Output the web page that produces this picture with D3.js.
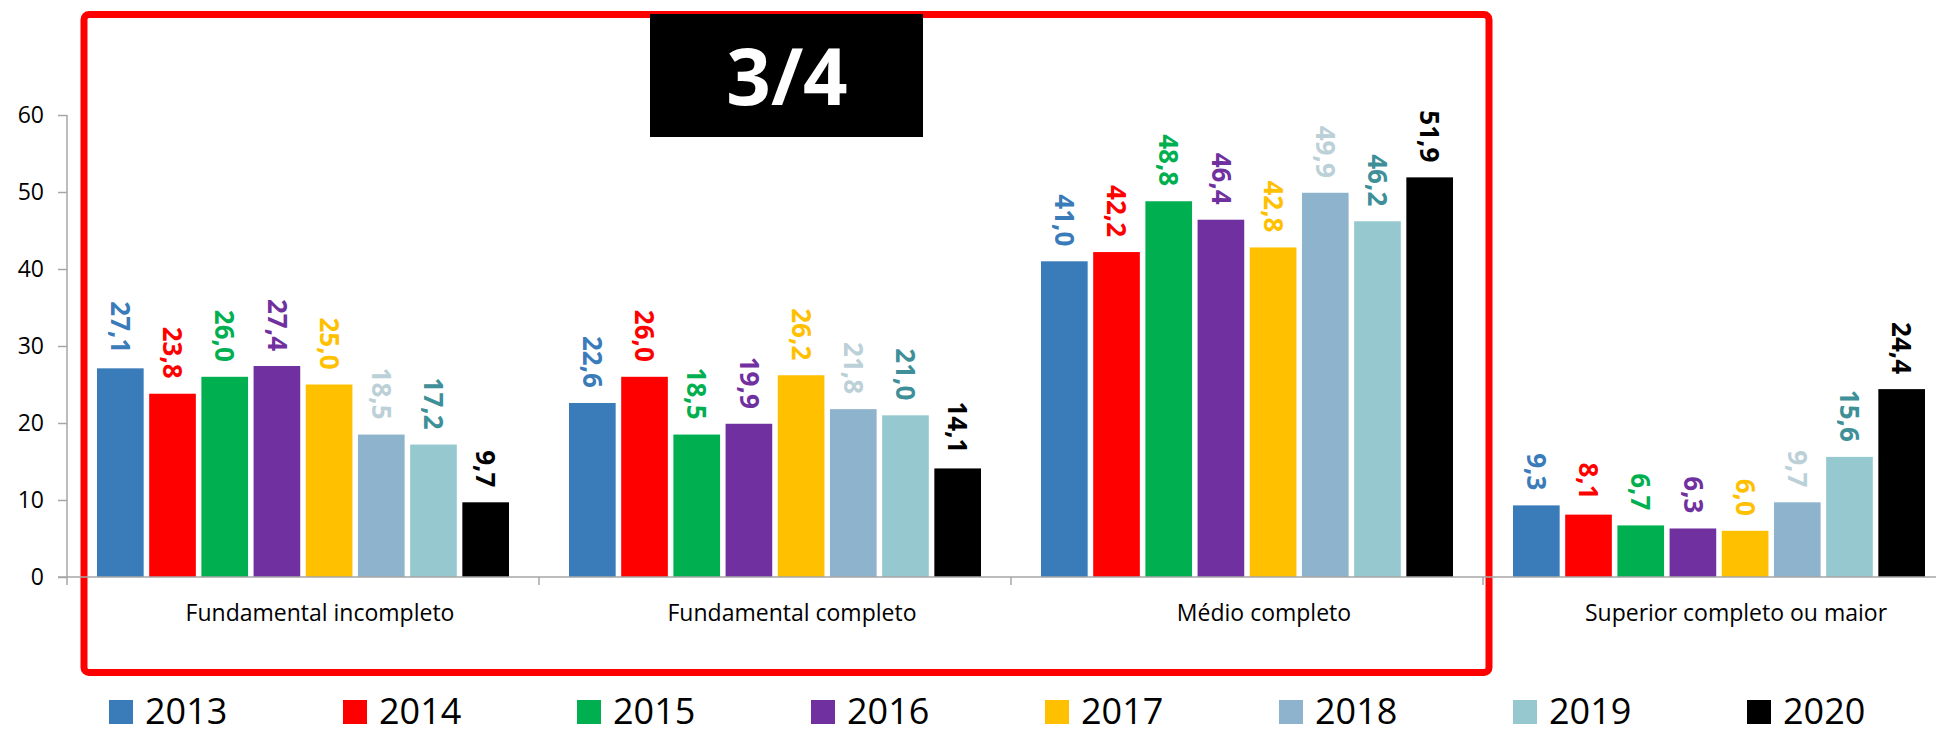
<!DOCTYPE html>
<html>
<head>
<meta charset="utf-8">
<script src="https://cdn.jsdelivr.net/npm/d3@7"></script>
<style>
  body { margin: 0; background: #fff; }
  svg { display: block; }
</style>
</head>
<body>
<svg id="chart" width="1936" height="734"></svg>
<script>
// valores
let categories = ["Fundamental incompleto", "Fundamental completo", "Médio completo", "Superior completo ou maior"];
let years = ["2013", "2014", "2015", "2016", "2017", "2018", "2019", "2020"];
let v2013 = [27.1, 22.6, 41.0, 9.3];
let v2014 = [23.8, 26.0, 42.2, 8.1];
let v2015 = [26.0, 18.5, 48.8, 6.7];
let v2016 = [27.4, 19.9, 46.4, 6.3];
let v2017 = [25.0, 26.2, 42.8, 6.0];
let v2018 = [18.5, 21.8, 49.9, 9.7];
let v2019 = [17.2, 21.0, 46.2, 15.6];
let v2020 = [9.7, 14.1, 51.9, 24.4];
let yTicks = [0, 10, 20, 30, 40, 50, 60];
let title = "3/4";

let series = [v2013, v2014, v2015, v2016, v2017, v2018, v2019, v2020];
let barColors = ["#3A7BB9", "#FF0000", "#00B050", "#7030A0", "#FFC000", "#8EB4CD", "#96C9CF", "#000000"];
let labelColors = ["#3A7BB9", "#FF0000", "#00B050", "#7030A0", "#FFC000", "#BCD0D8", "#3E8F97", "#000000"];

let svg = d3.select("#chart");
let axisColor = "#A6A6A6";
let x0 = 67, groupW = 472;

let xGroup = d3.scaleBand().domain(categories).range([x0, x0 + 4 * groupW]).padding(0);
let xYear = d3.scaleBand().domain(years).range([30, groupW - 30]).paddingInner(0.106).paddingOuter(0);
let y = d3.scaleLinear().domain([0, 60]).range([577, 115]);
let fmt = v => d3.format(".1f")(v).replace(".", ",");

// moldura vermelha e caixa do título
svg.append("rect").attr("x", 84).attr("y", 14.5).attr("width", 1405).attr("height", 658)
  .attr("rx", 5).attr("fill", "none").attr("stroke", "#FF0000").attr("stroke-width", 7);
svg.append("rect").attr("x", 650).attr("y", 14).attr("width", 273).attr("height", 123).attr("fill", "#000");
svg.append("text").attr("x", 787).attr("y", 105).attr("text-anchor", "middle")
  .style("font", "700 78px 'Open Sans'").attr("fill", "#fff").text(title);

// barras
let rows = [];
for (let s = 0; s < series.length; s++) {
  for (let c = 0; c < categories.length; c++) {
    rows.push({cat: categories[c], year: years[s], i: s, v: series[s][c]});
  }
}
svg.selectAll("rect.bar").data(rows).enter().append("rect").attr("class", "bar")
  .attr("x", d => xGroup(d.cat) + xYear(d.year))
  .attr("y", d => y(d.v))
  .attr("width", xYear.bandwidth())
  .attr("height", d => y(0) - y(d.v))
  .attr("fill", d => barColors[d.i]);

svg.selectAll("text.lbl").data(rows).enter().append("text").attr("class", "lbl")
  .attr("transform", d => "translate(" + (xGroup(d.cat) + xYear(d.year) + xYear.bandwidth() / 2) + "," + (y(d.v) - 15) + ") rotate(90)")
  .attr("text-anchor", "end").attr("dy", "0.36em")
  .style("font", "700 26px 'Open Sans'")
  .attr("fill", d => labelColors[d.i])
  .text(d => fmt(d.v));

// eixo y
let yAxis = d3.axisLeft(y).tickValues(yTicks).tickSize(9).tickPadding(14).tickFormat(d3.format("d"));
let gy = svg.append("g").attr("transform", "translate(" + x0 + ",0)").call(yAxis);
gy.select(".domain").remove();
gy.selectAll(".tick line").attr("stroke", axisColor).attr("stroke-width", 1.5);
gy.selectAll(".tick text").style("font", "23px 'Open Sans'").attr("fill", "#000");
svg.append("line").attr("x1", x0).attr("x2", x0).attr("y1", y(60)).attr("y2", y(0) + 8)
  .attr("stroke", axisColor).attr("stroke-width", 1.5);

// eixo x
svg.append("line").attr("x1", x0 - 9).attr("x2", 1936).attr("y1", y(0)).attr("y2", y(0))
  .attr("stroke", axisColor).attr("stroke-width", 1.5);
svg.selectAll("line.sep").data(categories.slice(1)).enter().append("line").attr("class", "sep")
  .attr("x1", d => xGroup(d)).attr("x2", d => xGroup(d))
  .attr("y1", y(0)).attr("y2", y(0) + 8)
  .attr("stroke", axisColor).attr("stroke-width", 1.5);
svg.selectAll("text.cat").data(categories).enter().append("text").attr("class", "cat")
  .attr("x", d => xGroup(d) + xGroup.bandwidth() / 2 + 17).attr("y", 621)
  .attr("text-anchor", "middle").style("font", "23px 'Open Sans'").attr("fill", "#000")
  .text(d => d);

// legenda
let leg = svg.selectAll("g.leg").data(years).enter().append("g").attr("class", "leg")
  .attr("transform", (d, i) => "translate(" + (109 + i * 234) + ",700)");
leg.append("rect").attr("width", 24).attr("height", 24).attr("fill", (d, i) => barColors[i]);
leg.append("text").attr("x", 36).attr("y", 24).style("font", "36px 'Open Sans'").attr("fill", "#000").text(d => d);
</script>
</body>
</html>
